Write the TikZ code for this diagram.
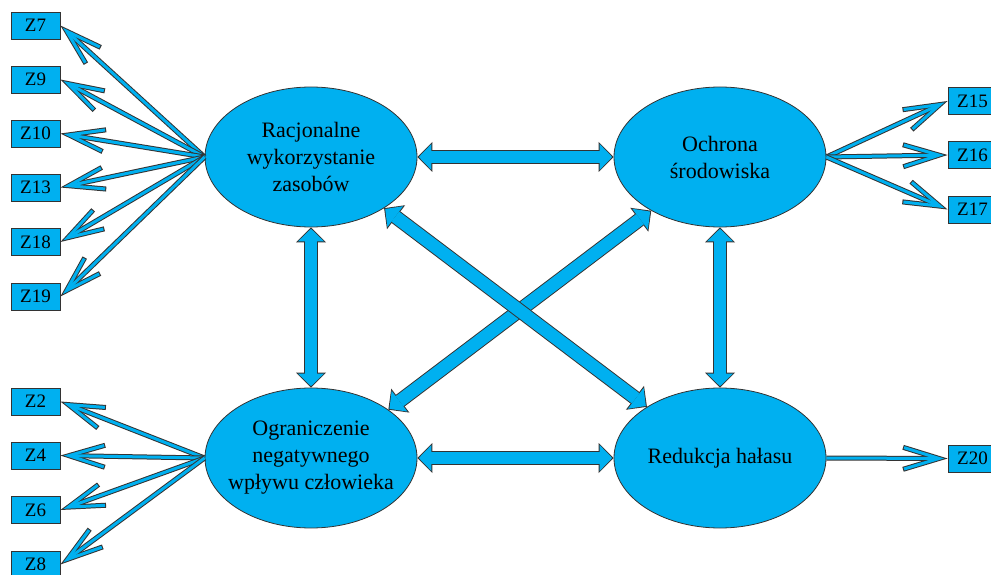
\documentclass[tikz,border=0pt]{standalone}
\usepackage{fontspec}
\setmainfont{Liberation Serif}
\usetikzlibrary{shapes.geometric,arrows.meta}
\definecolor{boxblue}{HTML}{00B0F0}
\definecolor{edgecol}{HTML}{333333}
\begin{document}
\begin{tikzpicture}[x=1pt,y=1pt,
  ell/.style={ellipse, draw=edgecol, fill=boxblue, line width=0.8pt,
    minimum width=212pt, minimum height=140pt, inner sep=0pt},
  elltext/.style={font=\fontsize{22}{27}\selectfont, align=center, inner sep=0pt},
  zbox/.style={rectangle, draw=edgecol, fill=boxblue, line width=0.8pt,
    minimum width=49pt, minimum height=27pt, inner sep=0pt,
    font=\fontsize{19}{22}\selectfont},
  thinarrow/.style={
    preaction={draw=edgecol, line width=5pt, shorten >=0pt,
      -{Straight Barb[length=36pt,width=22pt,sharp]}},
    draw=boxblue, line width=3pt, shorten >=3.4pt,
    -{Straight Barb[length=35pt,width=21.4pt,sharp]}},
  blockarrow/.style={
    preaction={draw=edgecol, line width=14.5pt, shorten <=0pt, shorten >=0pt,
      {Triangle[length=15pt,width=30pt,line width=0pt]}-{Triangle[length=15pt,width=30pt,line width=0pt]}},
    draw=boxblue, line width=12.6pt, shorten <=1.4pt, shorten >=1.4pt,
    {Triangle[length=12.6pt,width=26pt,line width=0pt]}-{Triangle[length=12.6pt,width=26pt,line width=0pt]}}
]
\clip (0,0) rectangle (991,574);
\fill[white] (0,0) rectangle (991,574);

% ellipses
\node[ell, label={[elltext]center:Racjonalne\\wykorzystanie\\zasobów}] (e1) at (311,417) {};
\node[ell, label={[elltext]center:Ochrona\\środowiska}] (e2) at (720,417) {};
\node[ell, label={[elltext]center:Ograniczenie\\negatywnego\\wpływu człowieka}] (e3) at (311,116) {};
\node[ell, label={[elltext]center:Redukcja hałasu}] (e4) at (720,116) {};

% indicator boxes
\node[zbox] (z7)  at (35.5,548.5) {Z7};
\node[zbox] (z9)  at (35.5,494.5) {Z9};
\node[zbox] (z10) at (35.5,440.5) {Z10};
\node[zbox] (z13) at (35.5,386.5) {Z13};
\node[zbox] (z18) at (35.5,332) {Z18};
\node[zbox] (z19) at (35.5,277.5) {Z19};
\node[zbox] (z2)  at (35.5,172.5) {Z2};
\node[zbox] (z4)  at (35.5,118.5) {Z4};
\node[zbox] (z6)  at (35.5,64) {Z6};
\node[zbox] (z8)  at (35.5,9.5) {Z8};
\node[zbox] (z15) at (972.5,473) {Z15};
\node[zbox] (z16) at (972.5,419) {Z16};
\node[zbox] (z17) at (972.5,364.5) {Z17};
\node[zbox] (z20) at (972.5,115.5) {Z20};

% thin arrows
\foreach \z in {z7,z9,z10,z13,z18,z19}
  \draw[thinarrow] (e1.west) -- (\z.east);
\foreach \z in {z2,z4,z6,z8}
  \draw[thinarrow] (e3.west) -- (\z.east);
\foreach \z in {z15,z16,z17}
  \draw[thinarrow] (e2.east) -- (\z.west);
\draw[thinarrow] (e4.east) -- (z20.west);

% block arrows
\draw[blockarrow] (e1.east) -- (e2.west);
\draw[blockarrow] (e3.east) -- (e4.west);
\draw[blockarrow] (e1.south) -- (e3.north);
\draw[blockarrow] (e2.south) -- (e4.north);
\draw[blockarrow] (e3.32.6) -- (e2.-142.9);
\draw[blockarrow] (e1.-35.7) -- (e4.145.2);
\end{tikzpicture}
\end{document}
